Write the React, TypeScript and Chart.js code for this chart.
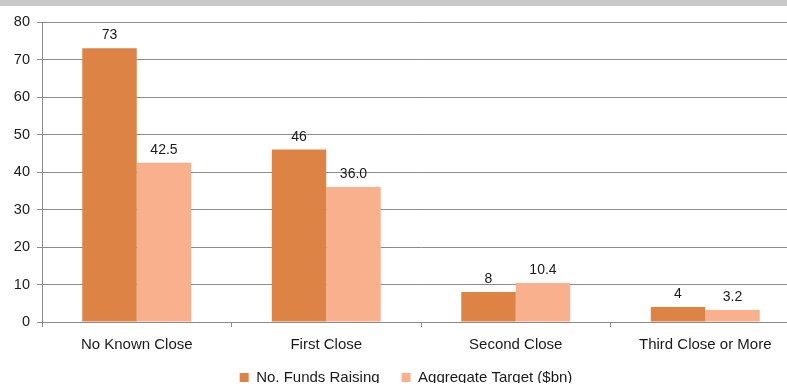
import React, { useEffect, useRef } from "react";
import { Chart, registerables } from "chart.js";

Chart.register(...registerables);

const categories = ["No Known Close", "First Close", "Second Close", "Third Close or More"];
const fundsRaising = [73, 46, 8, 4];
const aggregateTarget = [42.5, 36.0, 10.4, 3.2];
const seriesNames = ["No. Funds Raising", "Aggregate Target ($bn)"];
const seriesColors = ["#DC8345", "#F9B08C"];
const yMin = 0;
const yMax = 80;
const yStep = 10;

const FONT = "'Liberation Sans', Arial, sans-serif";
const GRID = "#8a8a8a";
const CANVAS_W = 806;
const CANVAS_H = 387;
const LEGEND_RESERVE = 35;
const LEGEND_TOP = 348;
const X_AXIS_HEIGHT = 30;

const valueLabels = {
  id: "valueLabels",
  afterDatasetsDraw(chart: any) {
    const ctx = chart.ctx;
    ctx.save();
    ctx.font = `14px ${FONT}`;
    ctx.fillStyle = "#1a1a1a";
    ctx.textAlign = "center";
    ctx.textBaseline = "alphabetic";
    chart.data.datasets.forEach((ds: any, di: number) => {
      const meta = chart.getDatasetMeta(di);
      meta.data.forEach((bar: any, i: number) => {
        const v = ds.data[i];
        const txt = di === 0 ? String(v) : Number(v).toFixed(1);
        ctx.fillText(txt, bar.x, bar.y - 9);
      });
    });
    ctx.restore();
  },
};

const legendPlacement = {
  id: "legendPlacement",
  beforeInit(chart: any) {
    const legend = chart.legend;
    if (!legend) return;
    const origFit = legend.fit;
    legend.fit = function () {
      origFit.call(this);
      this.height = LEGEND_RESERVE;
    };
  },
  afterLayout(chart: any) {
    const legend = chart.legend;
    if (!legend) return;
    const h = legend.height;
    legend.top = LEGEND_TOP;
    legend.bottom = LEGEND_TOP + h;
  },
};

export default function App() {
  const ref = useRef<HTMLCanvasElement | null>(null);
  useEffect(() => {
    if (!ref.current) return;
    const chart = new Chart(ref.current, {
      type: "bar",
      data: {
        labels: categories,
        datasets: [
          { label: seriesNames[0], data: fundsRaising, backgroundColor: seriesColors[0] },
          { label: seriesNames[1], data: aggregateTarget, backgroundColor: seriesColors[1] },
        ],
      },
      options: {
        responsive: false,
        animation: false,
        devicePixelRatio: 1,
        layout: { padding: { left: 12, right: 6, top: 22, bottom: 0 } },
        datasets: { bar: { categoryPercentage: 0.575, barPercentage: 1 } },
        plugins: {
          tooltip: { enabled: false },
          legend: {
            position: "bottom",
            labels: {
              boxWidth: 9,
              boxHeight: 9,
              padding: 22,
              color: "#1a1a1a",
              font: { family: FONT, size: 15 },
            },
          },
        },
        scales: {
          x: {
            afterFit(scale: any) {
              scale.height = X_AXIS_HEIGHT;
            },
            grid: { display: true, drawOnChartArea: false, drawTicks: true, tickLength: 5, color: GRID, offset: true },
            border: { display: true, color: GRID },
            ticks: { color: "#1a1a1a", font: { family: FONT, size: 15 }, padding: 9, maxRotation: 0 },
          },
          y: {
            min: yMin,
            max: yMax,
            afterFit(scale: any) {
              scale.width = 30;
            },
            grid: { color: GRID, tickLength: 5, drawTicks: true },
            border: { display: true, color: GRID },
            ticks: { stepSize: yStep, color: "#1a1a1a", font: { family: FONT, size: 14.5 }, padding: 7 },
          },
        },
      },
      plugins: [legendPlacement, valueLabels],
    });
    return () => chart.destroy();
  }, []);

  return (
    <div
      style={{
        position: "fixed",
        left: 0,
        top: 0,
        width: 787,
        height: 387,
        overflow: "hidden",
        background: "#ffffff",
      }}
    >
      <canvas ref={ref} width={CANVAS_W} height={CANVAS_H} style={{ display: "block", width: CANVAS_W, height: CANVAS_H }} />
      <div style={{ position: "absolute", left: 0, top: 0, width: 787, height: 6, background: "#c9c9c9" }} />
    </div>
  );
}
